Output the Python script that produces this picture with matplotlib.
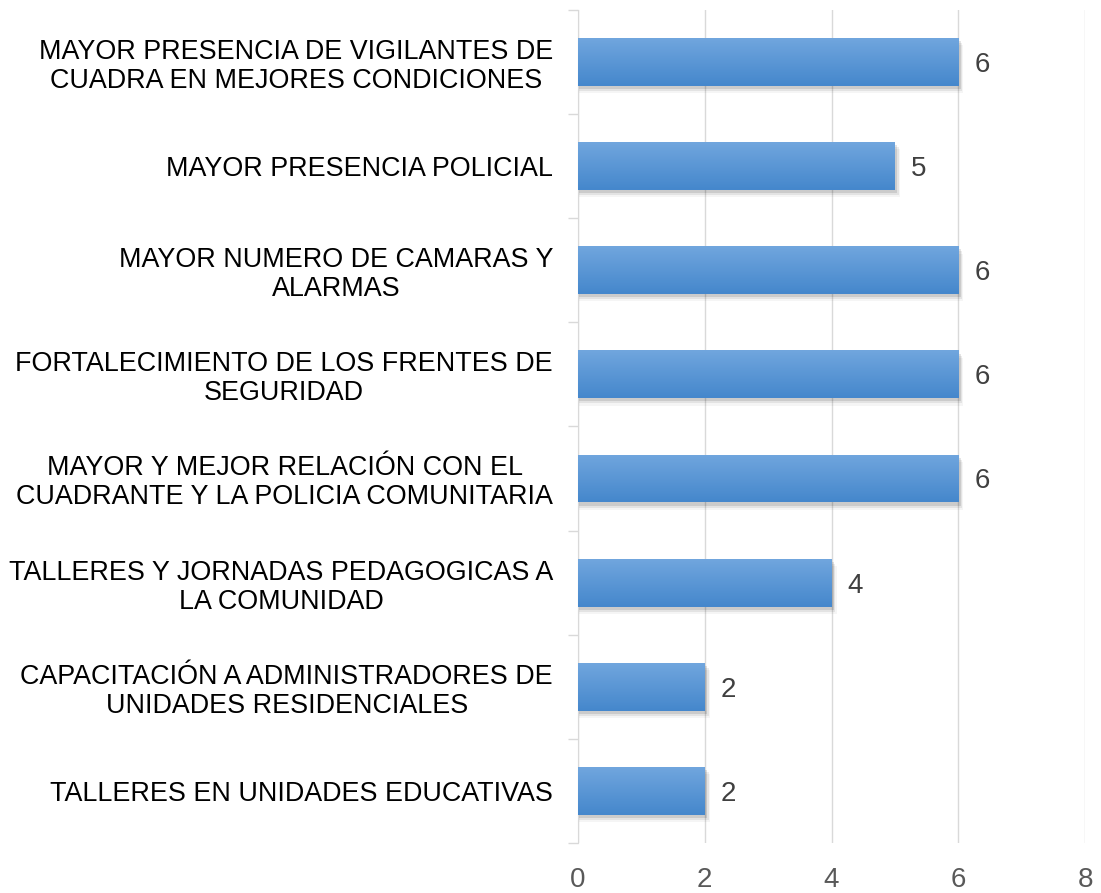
import numpy as np
import matplotlib.pyplot as plt
from matplotlib.patches import Rectangle
from matplotlib.ticker import FixedLocator

plt.rcParams['font.family'] = ['Liberation Sans', 'DejaVu Sans']

# categories from top to bottom
categories = [
    "MAYOR PRESENCIA DE VIGILANTES DE\nCUADRA EN MEJORES CONDICIONES",
    "MAYOR PRESENCIA POLICIAL",
    "MAYOR NUMERO DE CAMARAS Y\nALARMAS",
    "FORTALECIMIENTO DE LOS FRENTES DE\nSEGURIDAD",
    "MAYOR Y MEJOR RELACIÓN CON EL\nCUADRANTE Y LA POLICIA COMUNITARIA",
    "TALLERES Y JORNADAS PEDAGOGICAS A\nLA COMUNIDAD",
    "CAPACITACIÓN A ADMINISTRADORES DE\nUNIDADES RESIDENCIALES",
    "TALLERES EN UNIDADES EDUCATIVAS",
]
values = [6, 5, 6, 6, 6, 4, 2, 2]
x_ticks = [0, 2, 4, 6, 8]

fig = plt.figure(figsize=(11.01, 8.93), dpi=100)
ax = fig.add_axes([0.525, 0.056, 0.4605, 0.933])

n = len(categories)
ypos = np.arange(n)[::-1]
bar_h = 0.46

# gradient image for bar fill
grad = np.linspace(0, 1, 64).reshape(-1, 1)
top_c = np.array([0.44, 0.65, 0.87])
bot_c = np.array([0.27, 0.53, 0.80])
img = top_c * (1 - grad[..., None]) + bot_c * grad[..., None]

for y, v in zip(ypos, values):
    # soft shadow
    for k, a in enumerate([0.10, 0.07, 0.04]):
        off = 0.03 + k * 0.02
        ax.add_patch(Rectangle((0.02, y - bar_h / 2 - off), v + 0.02 + k * 0.02, bar_h,
                               facecolor='black', alpha=a, edgecolor='none', zorder=2))
    bar = ax.barh(y, v, height=bar_h, color='#5B9BD5', zorder=3)[0]
    im = ax.imshow(img, extent=[0, v, y - bar_h / 2, y + bar_h / 2],
                   aspect='auto', zorder=4)
    im.set_clip_path(bar)
    ax.text(v + 0.25, y, str(v), va='center_baseline', ha='left', fontsize=20,
            color='#404040', zorder=5)

ax.set_xlim(0, 8)
ax.set_ylim(-0.5, n - 0.5)
ax.set_xticks(x_ticks)
ax.set_xticklabels([str(t) for t in x_ticks], fontsize=20, color='#595959')
ax.set_yticks(ypos)
ax.set_yticklabels(categories, fontsize=19.4, color='black', ha='right',
                   multialignment='center', linespacing=1.15)
ax.tick_params(axis='y', which='major', length=0, pad=18)
ax.tick_params(axis='x', which='major', length=0, pad=17)
ax.yaxis.set_minor_locator(FixedLocator(np.arange(-0.5, n, 1.0)))
ax.tick_params(axis='y', which='minor', length=7, color='#D9D9D9', width=1)

ax.grid(axis='x', color='#D9D9D9', linewidth=1, zorder=0)
ax.set_axisbelow(True)
for s in ['top', 'right', 'bottom']:
    ax.spines[s].set_visible(False)
ax.spines['left'].set_color('#D9D9D9')

fig.savefig('out.png', dpi=100)
